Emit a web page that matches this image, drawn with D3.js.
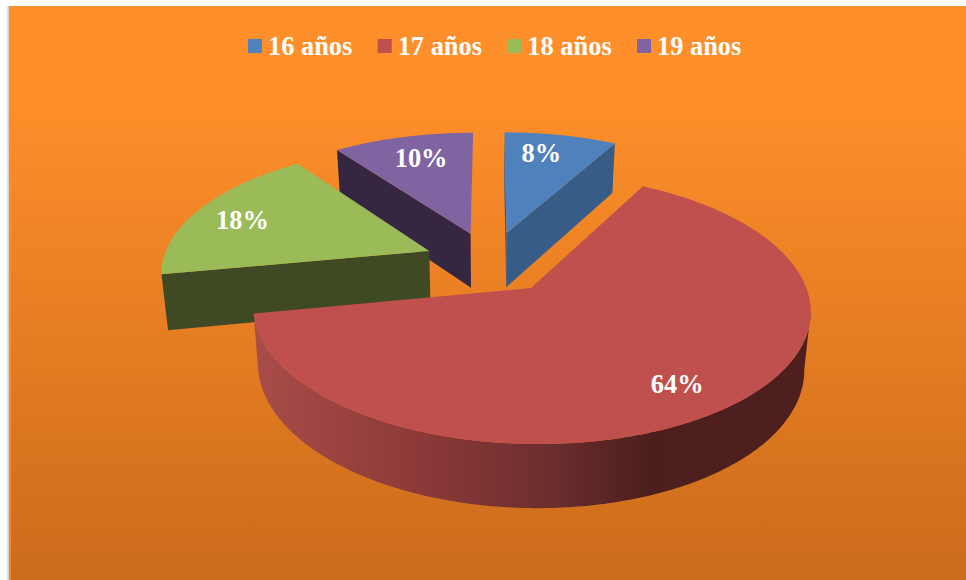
<!DOCTYPE html>
<html lang="es">
<head>
<meta charset="utf-8">
<title>Edad</title>
<script src="https://cdn.jsdelivr.net/npm/d3@7"></script>
<style>
html,body{margin:0;padding:0;background:#fff;overflow:hidden}
svg{display:block}
text{font-family:"Liberation Serif",serif;font-weight:bold;fill:#fff;font-size:26.4px}
</style>
</head>
<body>
<svg id="chart" width="966" height="580"></svg>
<script>
const categories = ["16 años", "17 años", "18 años", "19 años"];
const values = [8, 64, 18, 10];
const labels = ["8%", "64%", "18%", "10%"];
const topColors = ["#4F81BD", "#C0504D", "#9BBB59", "#8064A2"];
const sideColors = ["#375C87", "#7A3331", "#3F4A25", "#352741"];

const W = 966, H = 580;
const svg = d3.select("#chart");
const defs = svg.append("defs");

// page background
const bg = defs.append("linearGradient").attr("id", "bg").attr("gradientUnits", "userSpaceOnUse")
  .attr("x1", 0).attr("x2", 0).attr("y1", 6).attr("y2", H);
[[0, "#FF8F2A"], [0.15, "#FF8F2A"], [1, "#CB6B1B"]].forEach(([o, c]) =>
  bg.append("stop").attr("offset", o).attr("stop-color", c));
const edge = defs.append("linearGradient").attr("id", "edge").attr("gradientUnits", "userSpaceOnUse")
  .attr("x1", 0).attr("x2", 0).attr("y1", 6).attr("y2", H);
[[0, "#FF8F2A"], [0.15, "#FF8F2A"], [1, "#F0862D"]].forEach(([o, c]) =>
  edge.append("stop").attr("offset", o).attr("stop-color", c));
const shade = defs.append("linearGradient").attr("id", "shade");
[[0, "#ffffff"], [1, "#c9c9c9"]].forEach(([o, c]) =>
  shade.append("stop").attr("offset", o).attr("stop-color", c));

svg.append("rect").attr("x", 6).attr("y", 6).attr("width", 3).attr("height", H - 6).attr("fill", "url(#shade)");
svg.append("rect").attr("x", 9).attr("y", 6).attr("width", W - 9).attr("height", H - 6).attr("fill", "url(#bg)");
svg.append("rect").attr("x", 9).attr("y", 6).attr("width", 2).attr("height", H - 6).attr("fill", "url(#edge)");

// 3D projection of the pie plane
const px = d3.scaleLinear().domain([0, 1]).range([490.5, 757.5]);
const py = d3.scaleLinear().domain([0, 1]).range([262.2, 386.2]);
const persp = 0.15, explode = 0.25, depthBase = 55.4, depthPow = 0.73, depthShrink = 0.98;
const scaleAt = v => 1 / (1 - persp * v);
function project(X, V, lower) {
  const s = scaleAt(V);
  const x = px(X * s), y = py(V * s);
  if (!lower) return [x, y];
  return [px(X * s * depthShrink), y + depthBase * Math.pow(s, depthPow)];
}

const arcs = d3.pie().sort(null)(values);
arcs.forEach(d => {
  d.mid = (d.startAngle + d.endAngle) / 2;
  d.ax = explode * Math.sin(d.mid);
  d.av = -explode * Math.cos(d.mid);
});
const rim = (d, a, r = 1) => [d.ax + r * Math.sin(a), d.av - r * Math.cos(a)];
const line = d3.line();
const arcAngles = d => d3.range(0, 241).map(i => d.startAngle + (d.endAngle - d.startAngle) * i / 240);

function topPath(d) {
  const pts = [project(d.ax, d.av)].concat(arcAngles(d).map(a => project(...rim(d, a))));
  return line(pts) + "Z";
}
function facePath(d, a) {
  const [X, V] = rim(d, a);
  return line([project(d.ax, d.av), project(X, V), project(X, V, true), project(d.ax, d.av, true)]) + "Z";
}
const rimRun = (d, a) => project(...rim(d, a))[0] - project(d.ax, d.av)[0];
function wallPath(d) {
  // only the part of the rim in front of the silhouette (right-most point)
  const all = arcAngles(d);
  const first = d3.greatestIndex(all, a => project(...rim(d, a))[0]);
  const ang = all.slice(first);
  const upper = ang.map(a => project(...rim(d, a)));
  const lower = ang.map(a => project(...rim(d, a), true)).reverse();
  return line(upper.concat(lower)) + "Z";
}

// red wall shading
const wall = defs.append("linearGradient").attr("id", "wall").attr("gradientUnits", "userSpaceOnUse")
  .attr("x1", px(-0.87)).attr("x2", px(1.2)).attr("y1", 0).attr("y2", 0);
[[0, "#A84C49"], [0.27, "#8E3B39"], [0.52, "#6E2E2E"], [0.71, "#4C1E1E"], [1, "#4D1F1F"]].forEach(([o, c]) =>
  wall.append("stop").attr("offset", o).attr("stop-color", c));

// painter's order: back slices first
const order = [3, 0, 2, 1];
const g = svg.append("g");
order.forEach(i => {
  const d = arcs[i];
  const sg = g.append("g");
  if (i === 1) {
    sg.append("path").attr("d", wallPath(d)).attr("fill", "url(#wall)");
  } else {
    if (rimRun(d, d.startAngle) < 0) sg.append("path").attr("d", facePath(d, d.startAngle)).attr("fill", sideColors[i]);
    if (rimRun(d, d.endAngle) > 10) sg.append("path").attr("d", facePath(d, d.endAngle)).attr("fill", sideColors[i]);
  }
  sg.append("path").attr("d", topPath(d)).attr("fill", topColors[i]);
});

// data labels
const labelRadius = 0.785;
const labelNudgeX = [-9, 1, -5, 5];
const labelNudgeY = [-1, 3, 3, 2];
svg.append("g").selectAll("text").data(arcs).join("text")
  .attr("text-anchor", "middle")
  .attr("dy", "0.33em")
  .attr("x", (d, i) => project(...rim(d, d.mid, labelRadius))[0] + labelNudgeX[i])
  .attr("y", (d, i) => project(...rim(d, d.mid, labelRadius))[1] + labelNudgeY[i])
  .text((d, i) => labels[i]);

// legend
const legendX = d3.scaleLinear().domain([0, 3]).range([248, 637]);
const lg = svg.append("g").selectAll("g").data(categories).join("g")
  .attr("transform", (d, i) => `translate(${legendX(i)},39)`);
lg.append("rect").attr("width", 14).attr("height", 14).attr("fill", (d, i) => topColors[i]);
lg.append("text").attr("x", 20).attr("y", 16).text(d => d);
</script>
</body>
</html>
